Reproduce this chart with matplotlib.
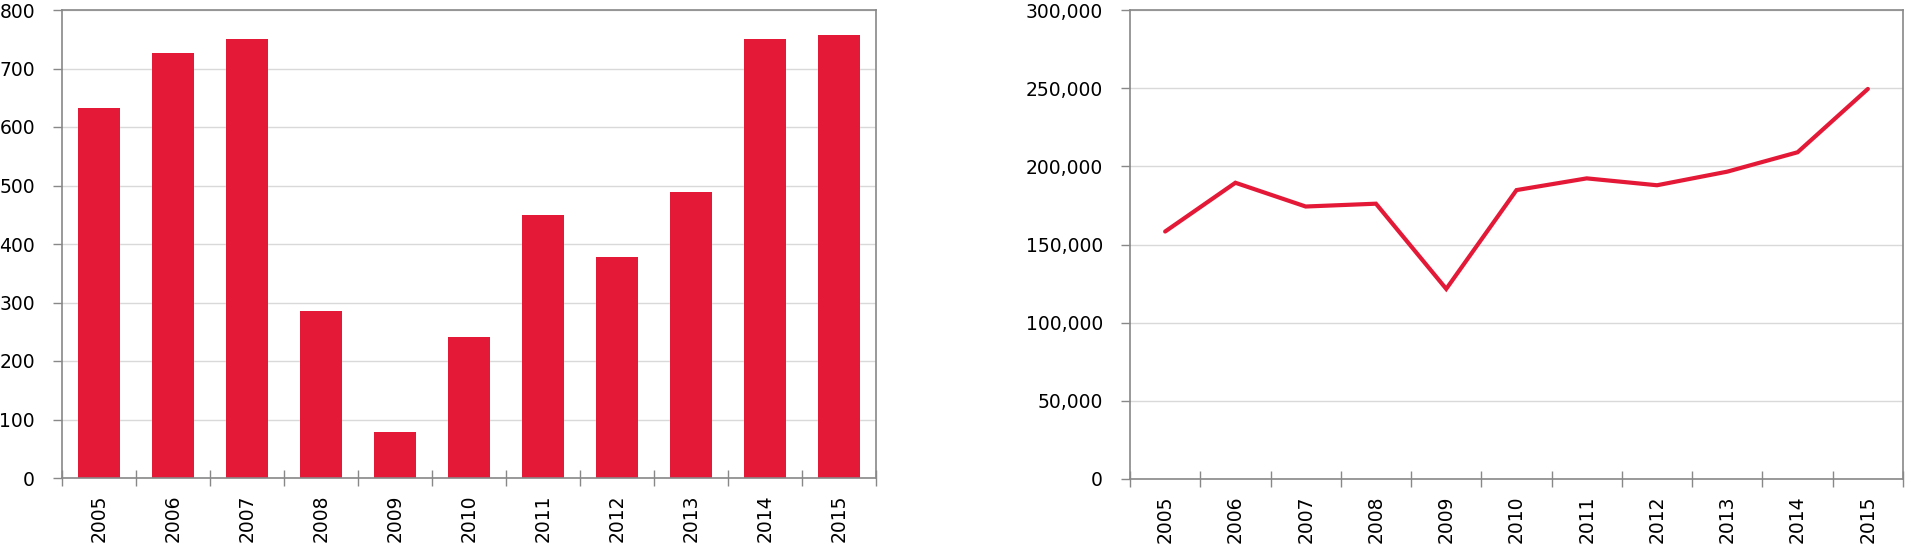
import matplotlib
matplotlib.use("Agg")
import matplotlib.pyplot as plt
import numpy as np
from matplotlib.ticker import FuncFormatter

plt.rcParams['font.family'] = ['DejaVu Sans']

years = ["2005", "2006", "2007", "2008", "2009", "2010",
         "2011", "2012", "2013", "2014", "2015"]
bar_values = [633, 726, 751, 286, 79, 241, 449, 378, 489, 750, 757]
line_values = [158300, 189500, 174300, 176100, 121600, 184800,
               192300, 187900, 196600, 209000, 249500]

red = "#e31937"
frame = "#888888"
grid = "#d9d9d9"

fig = plt.figure(figsize=(19.05, 5.44), dpi=100)
H = 544
W = 1905
ax1 = fig.add_axes([62 / W, 1 - 478 / H, (876 - 62) / W, (478 - 10) / H])
ax2 = fig.add_axes([1130 / W, 1 - 479 / H, (1903 - 1130) / W, (479 - 10) / H])

x = np.arange(len(years))


def style(ax, ymax, step):
    ax.set_xlim(-0.5, len(years) - 0.5)
    ax.set_ylim(0, ymax)
    ax.set_yticks(np.arange(0, ymax + 1, step))
    # ticks sit between categories, labels at the centres
    ax.set_xticks(np.arange(-0.5, len(years)), minor=False)
    ax.set_xticklabels([])
    ax.set_xticks(x, years, minor=True)
    ax.tick_params(axis='x', which='major', direction='inout', length=11,
                   width=1.0, color=frame)
    ax.tick_params(axis='x', which='minor', length=0, rotation=90,
                   labelsize=13.5, pad=12)
    ax.tick_params(axis='y', direction='out', length=6.5, width=1.0,
                   color=frame, labelsize=13.5, pad=13)
    ax.grid(axis='y', color=grid, linewidth=1)
    ax.set_axisbelow(True)
    for s in ax.spines.values():
        s.set_color(frame)
        s.set_linewidth(1.2)


ax1.bar(x, bar_values, width=0.57, color=red, zorder=2)
style(ax1, 800, 100)

ax2.plot(x, line_values, color=red, linewidth=3, zorder=3,
         solid_capstyle='round', solid_joinstyle='miter')
style(ax2, 300000, 50000)
ax2.yaxis.set_major_formatter(FuncFormatter(lambda v, p: f"{int(v):,}"))

fig.savefig("out.png", dpi=100)
